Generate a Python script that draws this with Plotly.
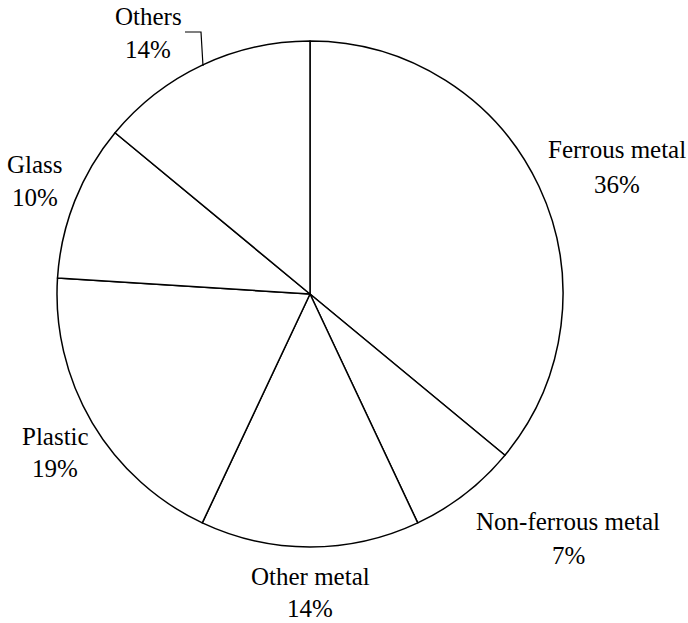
import plotly.graph_objects as go

# Composition of the material stream (percent)
categories = ["Ferrous metal", "Non-ferrous metal", "Other metal", "Plastic", "Glass", "Others"]
shares = [36, 7, 14, 19, 10, 14]

W, H = 688, 623

# Label layout in pixels: (centre x, name line y, percent line y)
label_pos = {
    "Ferrous metal": (617, 149, 184),
    "Non-ferrous metal": (568, 521, 555),
    "Other metal": (310, 576, 608),
    "Plastic": (55, 436, 469),
    "Glass": (35, 165, 197),
    "Others": (148, 16, 50),
}

# Pie placement in pixels
cx, cy, rad = 310, 294, 253


def px(x):
    return x / W


def py(y):
    return 1 - y / H


fig = go.Figure(
    go.Pie(
        labels=categories,
        values=shares,
        sort=False,
        direction="clockwise",
        rotation=0,
        textinfo="none",
        hoverinfo="label+percent",
        marker=dict(colors=["white"] * len(categories), line=dict(color="black", width=1.5)),
        domain=dict(x=[px(cx - rad), px(cx + rad)], y=[py(cy + rad), py(cy - rad)]),
        showlegend=False,
    )
)

font = dict(family="Liberation Serif", size=25, color="black")

for name, val in zip(categories, shares):
    x, y_name, y_pct = label_pos[name]
    for txt, y in ((name, y_name), (f"{val}%", y_pct)):
        fig.add_annotation(
            x=px(x), y=py(y), xref="paper", yref="paper",
            text=txt, showarrow=False, borderpad=0,
            xanchor="center", yanchor="middle", align="center", font=font,
        )

# Leader line for the "Others" label
fig.add_shape(
    type="path", xref="paper", yref="paper",
    path=f"M {px(185)} {py(32)} L {px(201)} {py(32)} L {px(203)} {py(66)}",
    line=dict(color="black", width=1.2),
)

fig.update_layout(
    width=W, height=H,
    margin=dict(l=0, r=0, t=0, b=0),
    paper_bgcolor="white",
    plot_bgcolor="white",
    font=dict(family="Liberation Serif"),
)

fig.write_html("out.html")
